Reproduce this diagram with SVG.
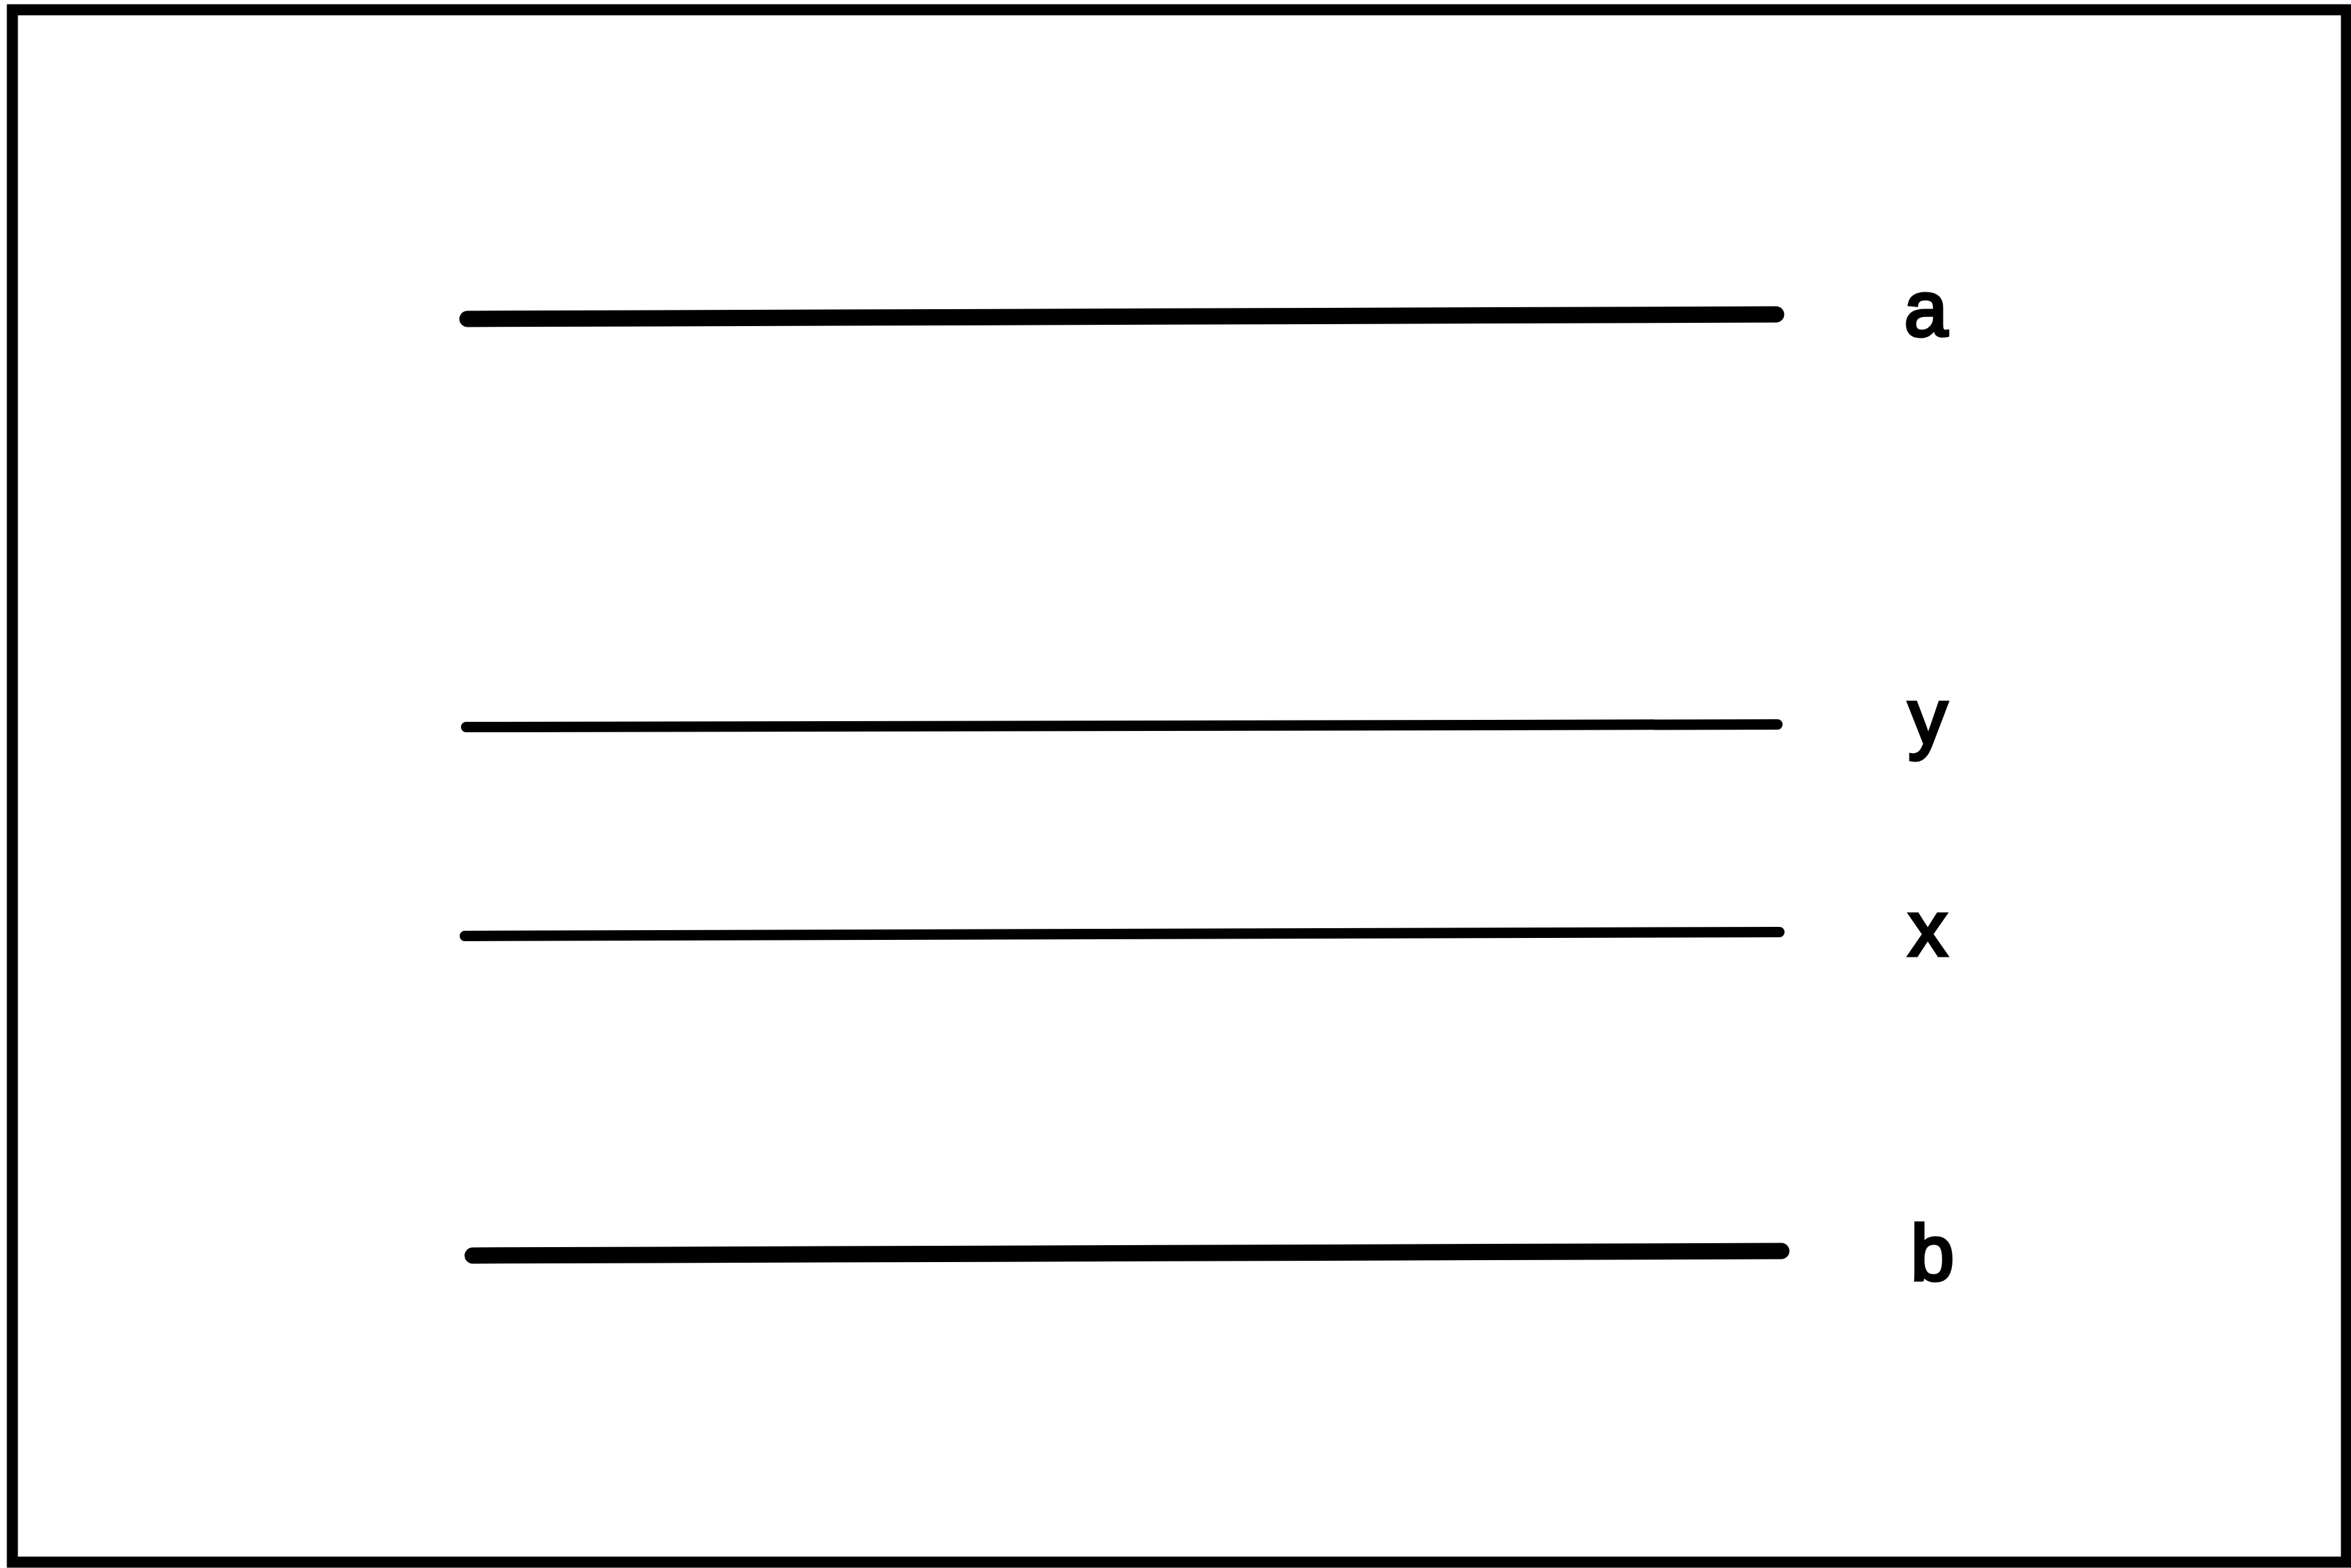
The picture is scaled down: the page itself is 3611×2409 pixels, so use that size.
<svg xmlns="http://www.w3.org/2000/svg" width="3611" height="2409" viewBox="0 0 3611 2409">
<style>
.frame{fill:none;stroke:#000;stroke-width:17}
.thick{stroke:#000;stroke-width:25;stroke-linecap:round;fill:none}
.thin{stroke:#000;stroke-width:16;stroke-linecap:round;fill:none}
.lbl{font-family:"Liberation Sans",Arial,sans-serif;font-size:120px;font-weight:normal;fill:#000;stroke:#000;stroke-width:5;text-anchor:middle}
</style>
<rect x="0" y="0" width="3611" height="2409" fill="#fff"/>
<rect class="frame" x="19" y="15" width="3585" height="2385"/>
<g id="connectors">
<line id="line-a" class="thick" x1="718" y1="490" x2="2728" y2="483"/>
<line id="line-y" class="thin" x1="716" y1="1117" x2="2730" y2="1113"/>
<line id="line-x" class="thin" x1="714" y1="1438" x2="2733" y2="1432"/>
<line id="line-b" class="thick" x1="726" y1="1929" x2="2736" y2="1922"/>
</g>
<g id="label-a"><text class="lbl" x="2958" y="516">a</text></g>
<g id="label-y"><text class="lbl" x="2961" y="1143">y</text></g>
<g id="label-x"><text class="lbl" x="2961" y="1468">x</text></g>
<g id="label-b"><text class="lbl" x="2968" y="1966">b</text></g>
</svg>
